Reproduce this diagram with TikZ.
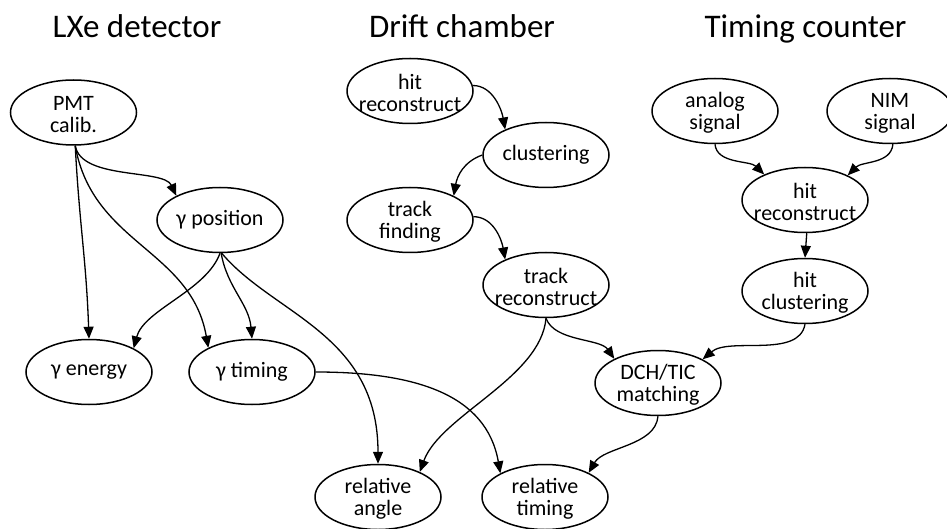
\documentclass[tikz,border=0pt]{standalone}
\usepackage{fontspec}
\setmainfont{Carlito}
\usetikzlibrary{arrows.meta,shapes.geometric}
\begin{document}
\begin{tikzpicture}[x=1pt,y=-1pt,
  box/.style={ellipse,draw,line width=1.5pt,minimum width=126pt,minimum height=65pt,inner sep=0pt},
  txt/.style={align=center,inner sep=0pt,font=\fontsize{22}{22}\selectfont},
  title/.style={anchor=base,inner sep=0pt,font=\fontsize{33}{38}\selectfont},
  arr/.style={line width=1.3pt,-{Triangle[length=12pt,width=10pt]}}]
\useasboundingbox (0,0) rectangle (947,529);
% titles
\node[title] (t1) at (137,38) {LXe detector};
\node[title] (t2) at (462,38) {Drift chamber};
\node[title] (t3) at (805.5,38) {Timing counter};
% nodes
\node[box] (pmt) at (73.5,112.5) {};
\node[box] (gpos) at (220,220) {};
\node[box] (gen) at (89,372) {};
\node[box] (gtim) at (252,372) {};
\node[box] (rangle) at (378,497) {};
\node[box] (rtim) at (545,497) {};
\node[box] (hrdc) at (410,91) {};
\node[box] (clus) at (546,155) {};
\node[box] (tfind) at (410,220) {};
\node[box] (trec) at (546,285) {};
\node[box] (dch) at (658,383) {};
\node[box] (analog) at (715,111) {};
\node[box] (nim) at (890,111) {};
\node[box] (hrtc) at (805,200) {};
\node[box] (hclus) at (805,291) {};
% texts
\node[txt] at ([yshift=-2pt]pmt) {PMT\\calib.};
\node[txt] at (gpos) {γ position};
\node[txt] at (gen) {γ energy};
\node[txt] at (gtim) {γ timing};
\node[txt] at ([yshift=-2pt]rangle) {relative\\angle};
\node[txt] at ([yshift=-2pt]rtim) {relative\\timing};
\node[txt] at ([yshift=-2pt]hrdc) {hit\\reconstruct};
\node[txt] at (clus) {clustering};
\node[txt] at ([yshift=-2pt]tfind) {track\\finding};
\node[txt] at ([yshift=-2pt]trec) {track\\reconstruct};
\node[txt] at ([yshift=-2pt]dch) {DCH/TIC\\matching};
\node[txt] at ([yshift=-2pt]analog) {analog\\signal};
\node[txt] at ([yshift=-2pt]nim) {NIM\\signal};
\node[txt] at ([yshift=-2pt]hrtc) {hit\\reconstruct};
\node[txt] at ([yshift=-2pt]hclus) {hit\\clustering};
% edges LXe
\draw[arr] (pmt.-87) to[out=-80,in=115,out distance=35pt,in distance=30pt] (gpos.151);
\draw[arr] (pmt.-87) to[out=-87,in=92,out distance=80pt,in distance=80pt] (gen.north);
\draw[arr] (pmt.-87) to[out=-80,in=100,out distance=100pt,in distance=100pt] (gtim.151);
\draw[arr] (gpos.-90) to[out=-110,in=75,out distance=40pt,in distance=40pt] (gen.28);
\draw[arr] (gpos.-88) to[out=-80,in=95,out distance=35pt,in distance=35pt] (gtim.north);
\draw[arr] (gpos.-87) to[out=-50,in=90,out distance=80pt,in distance=130pt] (rangle.north);
\draw[arr] (gtim.east) to[out=0,in=100,out distance=100pt,in distance=80pt] (rtim.152);
% edges DC
\draw[arr] (hrdc.5) to[out=0,in=100,out distance=20pt,in distance=20pt] (clus.148);
\draw[arr] (clus.west) to[out=200,in=80,out distance=20pt,in distance=20pt] (tfind.29);
\draw[arr] (tfind.3) to[out=0,in=100,out distance=20pt,in distance=20pt] (trec.148);
\draw[arr] (trec.-90) to[out=-95,in=70,out distance=60pt,in distance=60pt] (rangle.31);
\draw[arr] (trec.-90) to[out=-70,in=125,out distance=25pt,in distance=25pt] (dch.151);
% edges TC
\draw[arr] (analog.-90) to[out=-85,in=135,out distance=20pt,in distance=20pt] (hrtc.148);
\draw[arr] (nim.-85) to[out=-95,in=45,out distance=20pt,in distance=20pt] (hrtc.30);
\draw[arr] (hrtc.-87) -- (hclus.north);
\draw[arr] (hclus.south) to[out=-100,in=40,out distance=35pt,in distance=35pt] (dch.28);
\draw[arr] (dch.south) to[out=-95,in=60,out distance=30pt,in distance=30pt] (rtim.29);
\end{tikzpicture}
\end{document}
